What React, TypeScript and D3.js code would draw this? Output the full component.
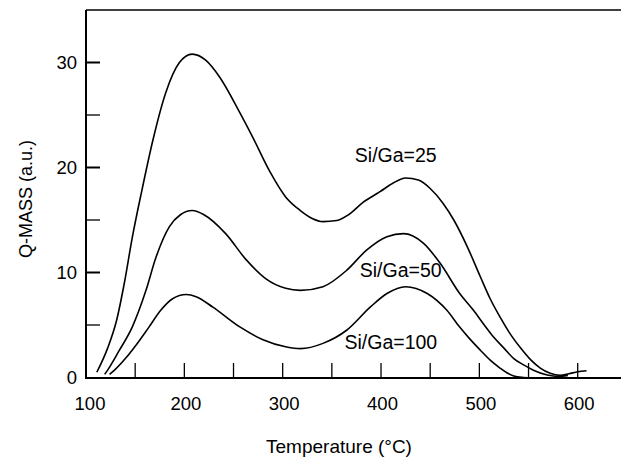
import { useRef, useEffect } from "react";
import * as d3 from "d3";

// temperature (°C) / signal (a.u.)
const temps25 = [111, 122, 131, 139, 147, 157, 168, 181, 195, 208, 222, 236, 256, 270, 287, 303, 318, 330, 341, 355, 367, 382, 399, 412, 425, 438, 450, 463, 474, 488, 501, 511, 522, 531, 542, 552, 562, 572, 582, 591, 600, 609];
const vals25 = [0.5, 2.8, 5.4, 9, 13.3, 17.9, 22.6, 27.1, 30, 30.8, 30.2, 28.6, 25.3, 22.8, 19.6, 17.2, 15.9, 15.15, 14.85, 14.95, 15.5, 16.7, 17.7, 18.5, 19, 18.8, 18, 16.6, 15, 12.4, 9.6, 7.5, 5.6, 4.2, 2.8, 1.7, 0.9, 0.4, 0.2, 0.35, 0.55, 0.65];

const temps50 = [119, 122, 134, 147, 161, 171, 185, 196, 208, 220, 242, 263, 283, 303, 318, 341, 365, 385, 406, 423, 443, 460, 480, 494, 505, 514, 525, 535, 545, 555, 569, 580, 590];
const vals50 = [0.3, 0.7, 2.6, 4.8, 8.3, 11.4, 14.4, 15.5, 15.9, 15.5, 13.7, 11.2, 9.4, 8.5, 8.3, 8.65, 10.2, 12.1, 13.4, 13.7, 12.8, 10.9, 8.0, 6.4, 5.0, 3.9, 2.8, 1.8, 1.2, 0.7, 0.24, 0.1, 0.2];

const temps100 = [124, 129, 140, 151, 164, 176, 188, 202, 212, 229, 256, 280, 304, 318, 341, 365, 389, 406, 425, 447, 467, 480, 490, 501, 511, 521, 528, 535, 545, 555];
const vals100 = [0.3, 0.7, 1.8, 3.1, 4.8, 6.4, 7.5, 7.9, 7.7, 6.7, 4.84, 3.6, 2.9, 2.75, 3.25, 4.5, 6.7, 8.0, 8.65, 8.0, 6.4, 4.8, 3.7, 2.6, 1.65, 0.9, 0.45, 0.14, 0, -0.05];

const seriesLabels = ["Si/Ga=25", "Si/Ga=50", "Si/Ga=100"];
const labelPos = [
  { t: 415, v: 20.5 },
  { t: 420, v: 9.6 },
  { t: 410, v: 2.7 },
];

const xTicks = [100, 200, 300, 400, 500, 600];
const xMinor = [150, 250, 350, 450, 550];
const yTicks = [0, 10, 20, 30];
const yMinor = [5, 15, 25];

export default function App() {
  const ref = useRef<SVGSVGElement>(null);

  useEffect(() => {
    const svg = d3.select(ref.current);
    svg.selectAll("*").remove();

    const font = "'Liberation Sans', Arial, Helvetica, sans-serif";
    const x = d3.scaleLinear().domain([100, 600]).range([86, 577.7]);
    const y = d3.scaleLinear().domain([0, 30]).range([377.5, 62.5]);

    const g = svg.append("g");

    // frame: top line, left and bottom axes
    g.append("line")
      .attr("x1", 86).attr("x2", 621)
      .attr("y1", 10).attr("y2", 10)
      .attr("stroke", "#000").attr("stroke-width", 1.5);
    g.append("line")
      .attr("x1", 86).attr("x2", 86)
      .attr("y1", 10).attr("y2", 378)
      .attr("stroke", "#000").attr("stroke-width", 2);
    g.append("line")
      .attr("x1", 85).attr("x2", 621)
      .attr("y1", 378).attr("y2", 378)
      .attr("stroke", "#000").attr("stroke-width", 2);

    // ticks (pointing inward)
    g.selectAll(".xt")
      .data(xTicks.concat(xMinor).filter((d) => d !== 100))
      .join("line")
      .attr("x1", (d) => x(d)).attr("x2", (d) => x(d))
      .attr("y1", 378).attr("y2", 363)
      .attr("stroke", "#000").attr("stroke-width", 1.3);
    g.selectAll(".yt")
      .data(yTicks.filter((d) => d !== 0))
      .join("line")
      .attr("x1", 86).attr("x2", 100)
      .attr("y1", (d) => y(d)).attr("y2", (d) => y(d))
      .attr("stroke", "#000").attr("stroke-width", 2);
    g.selectAll(".ym")
      .data(yMinor)
      .join("line")
      .attr("x1", 86).attr("x2", 100)
      .attr("y1", (d) => y(d)).attr("y2", (d) => y(d))
      .attr("stroke", "#000").attr("stroke-width", 1.3);

    // tick labels
    g.selectAll(".xl")
      .data(xTicks)
      .join("text")
      .attr("x", (d) => x(d) + (d === 100 ? 4 : 1.5))
      .attr("y", 410)
      .attr("text-anchor", "middle")
      .style("font-family", font)
      .style("font-size", "18.5px")
      .text((d) => d);
    g.selectAll(".yl")
      .data(yTicks)
      .join("text")
      .attr("x", 77)
      .attr("y", (d) => y(d) + 6.5)
      .attr("text-anchor", "end")
      .style("font-family", font)
      .style("font-size", "18.5px")
      .text((d) => d);

    // axis titles
    g.append("text")
      .attr("x", 339)
      .attr("y", 453)
      .attr("text-anchor", "middle")
      .style("font-family", font)
      .style("font-size", "19px")
      .text("Temperature (°C)");
    g.append("text")
      .attr("transform", "translate(32, 199) rotate(-90)")
      .attr("text-anchor", "middle")
      .style("font-family", font)
      .style("font-size", "18px")
      .text("Q-MASS (a.u.)");

    // curves
    const line = d3
      .line<[number, number]>()
      .x((d) => x(d[0]))
      .y((d) => y(d[1]))
      .curve(d3.curveMonotoneX);

    const series: [number[], number[]][] = [
      [temps25, vals25],
      [temps50, vals50],
      [temps100, vals100],
    ];
    series.forEach(([ts, vs]) => {
      g.append("path")
        .datum(ts.map((t, i) => [t, vs[i]] as [number, number]))
        .attr("d", line)
        .attr("fill", "none")
        .attr("stroke", "#000")
        .attr("stroke-width", 1.6);
    });

    // curve labels
    g.selectAll(".cl")
      .data(seriesLabels)
      .join("text")
      .attr("x", (d, i) => x(labelPos[i].t))
      .attr("y", (d, i) => y(labelPos[i].v))
      .attr("text-anchor", "middle")
      .style("font-family", font)
      .style("font-size", "19.5px")
      .text((d) => d);
  }, []);

  return (
    <svg
      ref={ref}
      width={621}
      height={459}
      style={{ position: "absolute", left: 0, top: 0, background: "#fff" }}
    />
  );
}
